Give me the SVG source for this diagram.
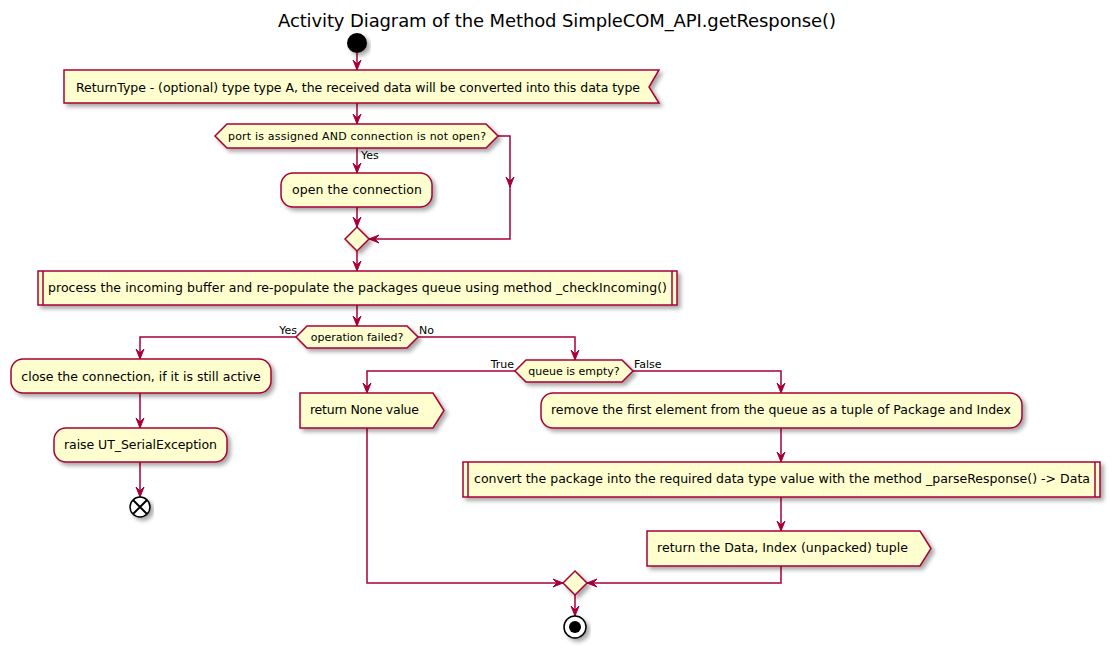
<svg xmlns="http://www.w3.org/2000/svg" width="1116" height="653" viewBox="0 0 1116 653">
<style>
.box{fill:#FEFECE;stroke:#A80036;stroke-width:1.5;filter:url(#sh)}
.t{font-family:"DejaVu Sans","Liberation Sans",sans-serif;font-size:12.5px;fill:#000}
.s{font-family:"DejaVu Sans","Liberation Sans",sans-serif;font-size:11px;fill:#000}
.c{fill:none;stroke:#A80036;stroke-width:1.5}
.ca{fill:none;stroke:#A80036;stroke-width:1.5;marker-end:url(#ah)}
</style>
<defs>
<filter id="sh" x="-10%" y="-30%" width="130%" height="180%">
<feDropShadow dx="3" dy="3" stdDeviation="2" flood-color="#000" flood-opacity="0.35"/>
</filter>
<marker id="ah" markerUnits="userSpaceOnUse" markerWidth="12" markerHeight="10" refX="10" refY="5" orient="auto" viewBox="0 0 12 10">
<path d="M0,1 L10,5 L0,9 L4,5 Z" fill="#A80036" stroke="#A80036" stroke-width="1"/>
</marker>
</defs>
<rect width="1116" height="653" fill="#fff"/>
<text x="557" y="27" text-anchor="middle" font-family="DejaVu Sans,Liberation Sans,sans-serif" font-size="18" textLength="558">Activity Diagram of the Method SimpleCOM_API.getResponse()</text>

<g id="connectors">
<path class="ca" d="M357,53 V70"/>
<path class="ca" d="M357,103 V124"/>
<path class="ca" d="M357,148 V173"/>
<path class="ca" d="M498,136 H510 V187"/>
<path class="ca" d="M510,186 V239 H369"/>
<path class="ca" d="M357,207 V227"/>
<path class="ca" d="M357,251 V271"/>
<path class="ca" d="M357,305 V326"/>
<path class="ca" d="M296,337 H140 V359"/>
<path class="ca" d="M140,393 V428"/>
<path class="ca" d="M140,462 V497"/>
<path class="ca" d="M418,337 H575 V360"/>
<path class="ca" d="M515,371 H367 V393"/>
<path class="ca" d="M633,371 H781 V393"/>
<path class="ca" d="M781,428 V462"/>
<path class="ca" d="M781,497 V531"/>
<path class="ca" d="M367,428 V583 H563"/>
<path class="ca" d="M781,566 V583 H587"/>
<path class="ca" d="M575,595 V616"/>
<text class="s" x="361" y="159">Yes</text>
<text class="s" x="297" y="334" text-anchor="end">Yes</text>
<text class="s" x="419" y="334">No</text>
<text class="s" x="514" y="368" text-anchor="end">True</text>
<text class="s" x="634" y="368">False</text>
</g>

<g id="start"><circle cx="357" cy="43" r="10" fill="#000" filter="url(#sh)"/></g>

<g id="returnType">
<polygon class="box" points="64,70 659,70 649,87 659,103 64,103"/>
<text class="t" x="76" y="92" textLength="564">ReturnType - (optional) type type A, the received data will be converted into this data type</text>
</g>

<g id="ifPort">
<polygon class="box" points="215,136 227,124 486,124 498,136 486,148 227,148"/>
<text class="s" x="357" y="140" text-anchor="middle" textLength="258">port is assigned AND connection is not open?</text>
</g>

<g id="openConn">
<rect class="box" x="281" y="173" width="151" height="34" rx="12"/>
<text class="t" x="357" y="194" text-anchor="middle" textLength="130">open the connection</text>
</g>

<g id="merge1"><polygon class="box" points="357,227 369,239 357,251 345,239"/></g>

<g id="process">
<rect class="box" x="38" y="271" width="639" height="34"/>
<path class="c" d="M43,271 V305 M672,271 V305"/>
<text class="t" x="48" y="292" textLength="619">process the incoming buffer and re-populate the packages queue using method _checkIncoming()</text>
</g>

<g id="ifFailed">
<polygon class="box" points="296,337 307,326 407,326 418,337 407,348 307,348"/>
<text class="s" x="357" y="341" text-anchor="middle">operation failed?</text>
</g>

<g id="closeConn">
<rect class="box" x="11" y="359" width="260" height="34" rx="12"/>
<text class="t" x="141" y="381" text-anchor="middle">close the connection, if it is still active</text>
</g>

<g id="raise">
<rect class="box" x="54" y="428" width="173" height="34" rx="12"/>
<text class="t" x="140.5" y="449" text-anchor="middle" textLength="153">raise UT_SerialException</text>
</g>

<g id="endX">
<circle cx="140" cy="507" r="10" fill="#fff" stroke="#000" stroke-width="1.5" filter="url(#sh)"/>
<path d="M133,500 L147,514 M147,500 L133,514" stroke="#000" stroke-width="2"/>
</g>

<g id="ifEmpty">
<polygon class="box" points="515,371 526,360 622,360 633,371 622,382 526,382"/>
<text class="s" x="574" y="375" text-anchor="middle">queue is empty?</text>
</g>

<g id="returnNone">
<polygon class="box" points="300,393 433,393 444,410.5 433,428 300,428"/>
<text class="t" x="310" y="414" textLength="109">return None value</text>
</g>

<g id="removeFirst">
<rect class="box" x="541" y="393" width="481" height="35" rx="12"/>
<text class="t" x="781" y="414" text-anchor="middle" textLength="460">remove the first element from the queue as a tuple of Package and Index</text>
</g>

<g id="convert">
<rect class="box" x="463" y="462" width="637" height="35"/>
<path class="c" d="M468,462 V497 M1095,462 V497"/>
<text class="t" x="474" y="483" textLength="616">convert the package into the required data type value with the method _parseResponse() -&gt; Data</text>
</g>

<g id="returnTuple">
<polygon class="box" points="647,531 920,531 931,548.5 920,566 647,566"/>
<text class="t" x="657" y="552" textLength="251">return the Data, Index (unpacked) tuple</text>
</g>

<g id="merge2"><polygon class="box" points="575,571 587,583 575,595 563,583"/></g>

<g id="stop">
<circle cx="575" cy="627" r="11" fill="#fff" stroke="#000" stroke-width="1.5" filter="url(#sh)"/>
<circle cx="575" cy="627" r="6" fill="#000"/>
</g>
</svg>
